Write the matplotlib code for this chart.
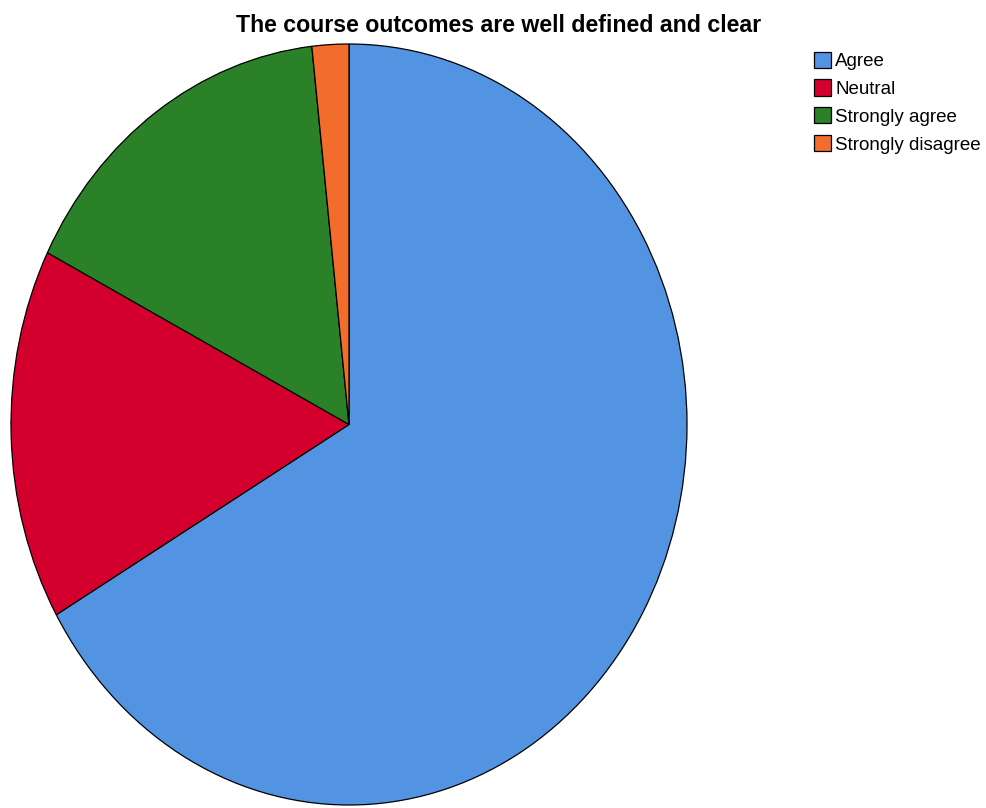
import matplotlib.pyplot as plt
from matplotlib.patches import Patch

# survey responses (counts)
labels = ['Agree', 'Neutral', 'Strongly agree', 'Strongly disagree']
counts = [38, 9, 9, 1]
colors = ['#5294E2', '#D3002E', '#2A8128', '#F26C2B']

W, H = 987, 808
fig = plt.figure(figsize=(W / 100, H / 100), dpi=100)

# pie is stretched vertically in the original, so use a non-square axes
ax = fig.add_axes([11 / W, 3 / H, 676 / W, 761 / H])
ax.pie(counts, colors=colors, startangle=90, counterclock=False,
       wedgeprops=dict(edgecolor='black', linewidth=0.9))
ax.set_aspect('auto')
ax.set_xlim(-1, 1)
ax.set_ylim(-1, 1)

fig.text(499 / W, 1 - 25 / H, 'The course outcomes are well defined and clear',
         ha='center', va='center', fontsize=16.7, fontweight='bold',
         family=['Liberation Sans', 'DejaVu Sans'])

handles = [Patch(facecolor=c, edgecolor='black', linewidth=0.9) for c in colors]
fig.legend(handles, labels, loc='upper left',
           bbox_to_anchor=(807 / W, 1 - 44 / H), frameon=False,
           handlelength=0.9, handleheight=0.95, handletextpad=0.2,
           labelspacing=0.5, borderaxespad=0,
           prop=dict(family=['Liberation Sans Narrow', 'Liberation Sans'], size=13.5))

fig.savefig('out.png', dpi=100)
